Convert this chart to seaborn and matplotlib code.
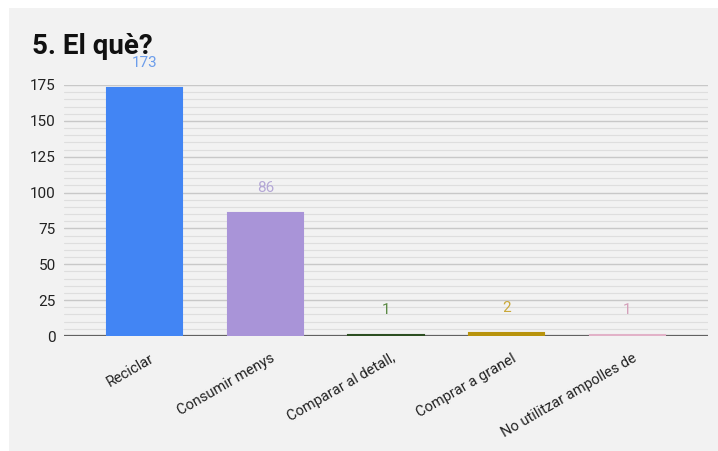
import matplotlib
matplotlib.use("Agg")
import matplotlib.pyplot as plt
from matplotlib.patches import Rectangle
from matplotlib.ticker import MultipleLocator
from matplotlib.transforms import ScaledTranslation
import seaborn as sns
import pandas as pd

categories = ["Reciclar", "Consumir menys", "Comparar al detall,",
              "Comprar a granel", "No utilitzar ampolles de"]
counts = [173, 86, 1, 2, 1]
bar_colors = ["#4285f4", "#a994d8", "#2d4f22", "#b8930c", "#e2b2c8"]
label_colors = ["#6d9eeb", "#b4a7d6", "#5b8a45", "#c9a83a", "#d4a0ba"]
title = "5. El què?"
yticks = [0, 25, 50, 75, 100, 125, 150, 175]

sns.set_theme(style="white")
plt.rcParams["font.family"] = ["Roboto", "DejaVu Sans"]

W, H = 718, 451
fig = plt.figure(figsize=(W / 100, H / 100), dpi=100, facecolor="white")
panel_bg = "#f2f2f2"
fig.patches.append(Rectangle((9 / W, 0), 1 - 9 / W, 1 - 8 / H,
                             transform=fig.transFigure, facecolor=panel_bg,
                             edgecolor="none", zorder=-5))

ax = fig.add_axes([64 / W, 1 - 336 / H, (708 - 64) / W, (336 - 85) / H])
ax.set_facecolor(panel_bg)

df = pd.DataFrame({"cat": categories, "n": counts})
sns.barplot(data=df, x="cat", y="n", hue="cat", palette=bar_colors,
            legend=False, width=0.625, saturation=1, ax=ax, zorder=3)
for bar, c in zip(ax.patches, bar_colors):
    bar.set_edgecolor(c)
    bar.set_linewidth(1.5)

ax.set_xlim(-0.67, 4.67)
ax.set_ylim(0, 175)
ax.set_yticks(yticks)
ax.yaxis.set_minor_locator(MultipleLocator(5))
ax.set_axisbelow(True)
ax.grid(axis="y", which="major", color="#c8c8c8", lw=1.0)
ax.grid(axis="y", which="minor", color="#dedede", lw=0.8)
ax.grid(axis="x", visible=False)
ax.axhline(0, color="#626262", lw=1.6, zorder=2)
for s in ax.spines.values():
    s.set_visible(False)

ax.tick_params(axis="y", which="both", length=0, pad=6, labelsize=11,
               labelcolor="#222222")
ax.tick_params(axis="x", length=0, pad=11, labelsize=10.5, labelcolor="#222222")
ax.set_xlabel("")
ax.set_ylabel("")
ax.set_xticks(range(len(categories)))
ax.set_xticklabels(categories, rotation=30, ha="right", rotation_mode="anchor")
shift = ScaledTranslation(5 / 100, 0, fig.dpi_scale_trans)
for lbl in ax.get_xticklabels():
    lbl.set_transform(lbl.get_transform() + shift)

for i, (v, c) in enumerate(zip(counts, label_colors)):
    ax.annotate(str(v), (i, v), xytext=(0, 18), textcoords="offset points",
                ha="center", va="center", fontsize=11, color=c, zorder=5,
                annotation_clip=False)

fig.text(32 / W, 1 - 46 / H, title, fontsize=20, fontweight="bold",
         color="#111111", ha="left", va="center")

fig.savefig("out.png", dpi=100, facecolor="white")
